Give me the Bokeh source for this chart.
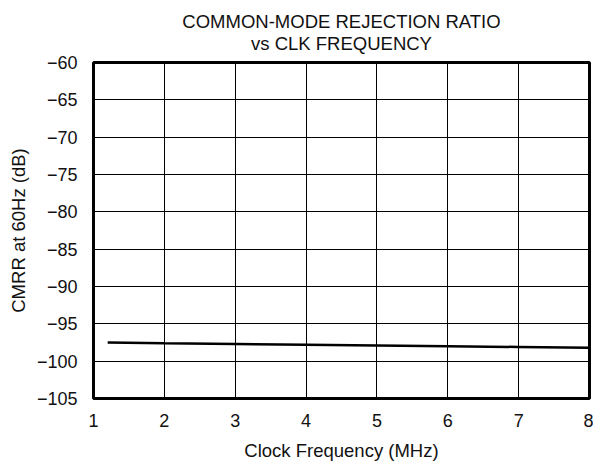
from bokeh.plotting import figure
from bokeh.models import FixedTicker, Range1d
from bokeh.embed import file_html
from bokeh.resources import INLINE

freq_mhz = [1.2, 2, 3, 4, 5, 6, 7, 8]
cmrr_db = [-97.5, -97.6, -97.7, -97.8, -97.9, -98.0, -98.1, -98.2]
x_ticks = [1, 2, 3, 4, 5, 6, 7, 8]
y_ticks = [-60, -65, -70, -75, -80, -85, -90, -95, -100, -105]
title_lines = ["COMMON-MODE REJECTION RATIO", "vs CLK FREQUENCY"]

FONT = "Liberation Sans"
FS = "18.5px"
TICK_FS = "18px"
TXT = "#111111"

p = figure(width=593, height=463, output_backend="svg", toolbar_location=None,
           x_range=Range1d(1, 8), y_range=Range1d(-105, -60),
           title="\n".join(title_lines),
           min_border_left=93, min_border_right=4, min_border_bottom=65,
           min_border_top=62)
p.title.align = "center"
p.title.text_align = "center"
p.title.text_font = FONT
p.title.text_font_size = FS
p.title.text_font_style = "normal"
p.title.text_color = TXT
p.title.text_line_height = 1.07
p.title.standoff = 17

p.line(freq_mhz, cmrr_db, line_color="black", line_width=2.5)

p.xaxis.ticker = FixedTicker(ticks=x_ticks)
p.yaxis.ticker = FixedTicker(ticks=y_ticks)
p.yaxis.major_label_overrides = {t: ("\u2212" + str(abs(t))) for t in y_ticks}
for ax in (p.xaxis[0], p.yaxis[0]):
    ax.axis_line_color = None
    ax.major_tick_line_color = None
    ax.minor_tick_line_color = None
    ax.major_tick_out = 0
    ax.major_tick_in = 0
    ax.minor_tick_out = 0
    ax.minor_tick_in = 0
    ax.major_label_text_font = FONT
    ax.major_label_text_font_size = TICK_FS
    ax.major_label_text_color = TXT
    ax.axis_label_text_font = FONT
    ax.axis_label_text_font_size = FS
    ax.axis_label_text_font_style = "normal"
    ax.axis_label_text_color = TXT
p.xaxis.axis_label = "Clock Frequency (MHz)"
p.yaxis.axis_label = "CMRR at 60Hz (dB)"
p.xaxis.major_label_standoff = 15
p.yaxis.major_label_standoff = 16
p.xaxis.axis_label_standoff = 10
p.yaxis.axis_label_standoff = 5

p.grid.grid_line_color = "black"
p.grid.grid_line_width = 1
p.outline_line_color = "black"
p.outline_line_width = 3
p.outline_line_alpha = 1

open("out.html", "w").write(file_html(p, INLINE))
